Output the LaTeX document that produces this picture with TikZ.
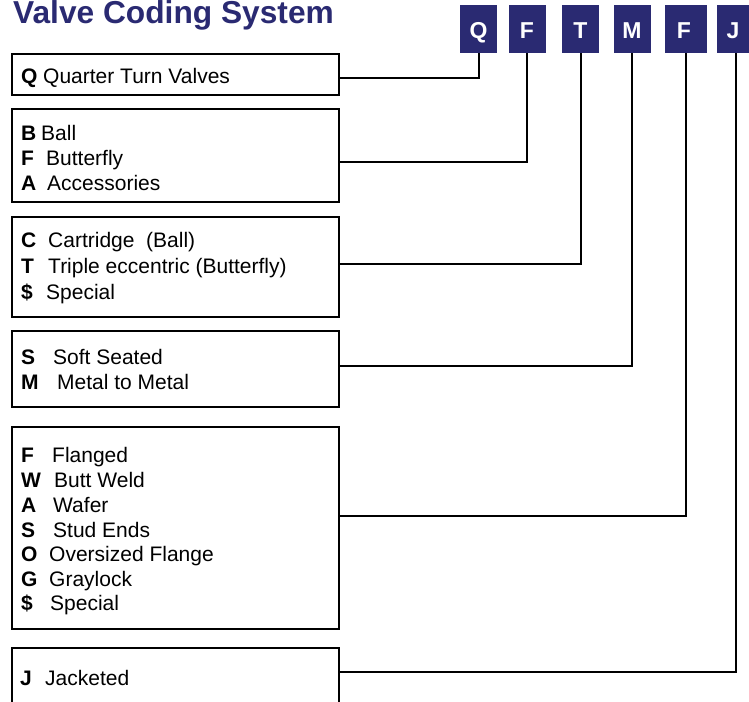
\documentclass[tikz,border=0pt]{standalone}
\usepackage{fontspec}
\setmainfont{Liberation Sans}
\definecolor{navy}{HTML}{2A2A72}
\begin{document}
\begin{tikzpicture}[x=1pt,y=-1pt,
  codebox/.style={draw=black,line width=2pt,fill=white,minimum width=327pt,inner sep=0pt,outer sep=0pt},
  letterbox/.style={fill=navy,minimum height=48pt,inner sep=0pt,outer sep=0pt},
  lettertxt/.style={anchor=base,inner sep=0pt,text=white,font=\fontsize{23}{23}\selectfont\bfseries},
  conn/.style={draw=black,line width=2pt},
  keyt/.style={anchor=base west,inner sep=0pt,font=\fontsize{21}{24}\selectfont\bfseries},
  valt/.style={anchor=base west,inner sep=0pt,font=\fontsize{21}{24}\selectfont},
  title/.style={anchor=base west,inner sep=0pt,text=navy,font=\fontsize{31.7}{34}\selectfont\bfseries}]
\useasboundingbox (0,0) rectangle (749,701);
% title
\node[title] (ttl) at (13,24) {Valve Coding System};
% letter boxes
\node[letterbox,minimum width=37pt] (lQ) at (478.5,29) {};
\node[letterbox,minimum width=37pt] (lF) at (527,29) {};
\node[letterbox,minimum width=37pt] (lT) at (580.5,29) {};
\node[letterbox,minimum width=37pt] (lM) at (632,29) {};
\node[letterbox,minimum width=42pt] (lF2) at (686,29) {};
\node[letterbox,minimum width=38pt] (lJ) at (736,29) {};
\node[lettertxt] (tQ) at (lQ.center |- 0,38) {Q};
\node[lettertxt] (tF) at (lF.center |- 0,38) {F};
\node[lettertxt] (tT) at (lT.center |- 0,38) {T};
\node[lettertxt] (tM) at (lM.center |- 0,38) {M};
\node[lettertxt] (tF2) at ([xshift=-2pt]lF2.center |- 0,38) {F};
\node[lettertxt] (tJ) at ([xshift=-3pt]lJ.center |- 0,38) {J};
% code boxes
\node[codebox,minimum height=41pt] (b1) at (175.5,74.5) {};
\node[codebox,minimum height=93pt] (b2) at (175.5,155.5) {};
\node[codebox,minimum height=100pt] (b3) at (175.5,267) {};
\node[codebox,minimum height=76pt] (b4) at (175.5,369) {};
\node[codebox,minimum height=202pt] (b5) at (175.5,528) {};
\node[codebox,minimum height=80pt] (b6) at (175.5,688) {};
% box 1
\node[keyt] (k1a) at (21,83) {Q};
\node[valt] (v1a) at (43,83) {Quarter Turn Valves};
% box 2
\node[keyt] (k2a) at (21,140) {B};
\node[valt] (v2a) at (41,140) {Ball};
\node[keyt] (k2b) at (21,165) {F};
\node[valt] (v2b) at (46,165) {Butterfly};
\node[keyt] (k2c) at (21,190) {A};
\node[valt] (v2c) at (47,190) {Accessories};
% box 3
\node[keyt] (k3a) at (21,247) {C};
\node[valt] (v3a) at (48,247) {Cartridge\ \ (Ball)};
\node[keyt] (k3b) at (21,273) {T};
\node[valt] (v3b) at (48,273) {Triple eccentric (Butterfly)};
\node[keyt] (k3c) at (21,299) {\$};
\node[valt] (v3c) at (46,299) {Special};
% box 4
\node[keyt] (k4a) at (21,364) {S};
\node[valt] (v4a) at (53,364) {Soft Seated};
\node[keyt] (k4b) at (21,389) {M};
\node[valt] (v4b) at (57,389) {Metal to Metal};
% box 5
\node[keyt] (k5a) at (21,462) {F};
\node[valt] (v5a) at (52,462) {Flanged};
\node[keyt] (k5b) at (21,487) {W};
\node[valt] (v5b) at (54,487) {Butt Weld};
\node[keyt] (k5c) at (21,512) {A};
\node[valt] (v5c) at (53,512) {Wafer};
\node[keyt] (k5d) at (21,537) {S};
\node[valt] (v5d) at (53,537) {Stud Ends};
\node[keyt] (k5e) at (21,561) {O};
\node[valt] (v5e) at (49,561) {Oversized Flange};
\node[keyt] (k5f) at (21,586) {G};
\node[valt] (v5f) at (49,586) {Graylock};
\node[keyt] (k5g) at (21,610) {\$};
\node[valt] (v5g) at (50,610) {Special};
% box 6
\node[keyt] (k6a) at (20,685) {J};
\node[valt] (v6a) at (45,685) {Jacketed};
% connectors
\draw[conn] (b1.east |- 0,78) -| (lQ.south);
\draw[conn] (b2.east |- 0,162) -| (lF.south);
\draw[conn] (b3.east |- 0,264) -| (lT.south);
\draw[conn] (b4.east |- 0,366) -| (lM.south);
\draw[conn] (b5.east |- 0,516) -| (lF2.south);
\draw[conn] (b6.east |- 0,672) -| (lJ.south);
\end{tikzpicture}
\end{document}
